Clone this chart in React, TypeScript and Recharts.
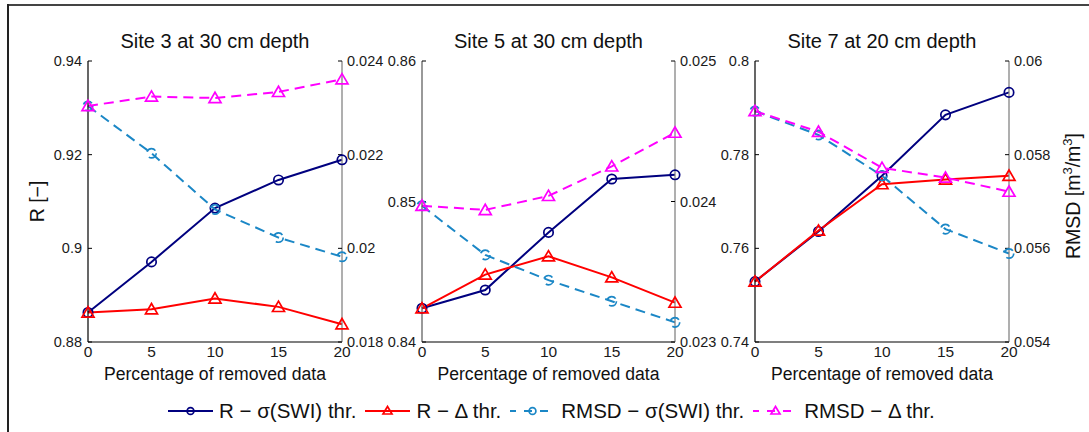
import React from 'react';
import { ComposedChart, Line, XAxis, YAxis } from 'recharts';

const FONT = '"Liberation Sans", Arial, Helvetica, sans-serif';

// ---------- data ----------
const removedPct = [0, 5, 10, 15, 20];
const xTicks = [0, 5, 10, 15, 20];

const site3Title = 'Site 3 at 30 cm depth';
const site3RSwi = [0.8863, 0.8971, 0.9086, 0.9146, 0.9189];
const site3RDelta = [0.8863, 0.887, 0.8893, 0.8875, 0.8838];
const site3RmsdSwi = [0.02304, 0.02203, 0.02083, 0.02023, 0.01982];
const site3RmsdDelta = [0.02304, 0.02324, 0.02321, 0.02334, 0.02361];
const site3LeftTicks = [0.88, 0.9, 0.92, 0.94];
const site3RightTicks = [0.018, 0.02, 0.022, 0.024];

const site5Title = 'Site 5 at 30 cm depth';
const site5RSwi = [0.8424, 0.8437, 0.8478, 0.8516, 0.8519];
const site5RDelta = [0.8424, 0.8448, 0.8461, 0.8446, 0.8428];
const site5RmsdSwi = [0.02397, 0.02362, 0.02344, 0.02329, 0.02314];
const site5RmsdDelta = [0.02397, 0.02394, 0.02404, 0.02425, 0.02449];
const site5LeftTicks = [0.84, 0.85, 0.86];
const site5RightTicks = [0.023, 0.024, 0.025];

const site7Title = 'Site 7 at 20 cm depth';
const site7RSwi = [0.7529, 0.7636, 0.7755, 0.7885, 0.7933];
const site7RDelta = [0.7529, 0.7638, 0.7737, 0.7747, 0.7755];
const site7RmsdSwi = [0.05893, 0.05842, 0.05755, 0.05641, 0.05589];
const site7RmsdDelta = [0.05893, 0.05849, 0.05772, 0.05751, 0.05721];
const site7LeftTicks = [0.74, 0.76, 0.78, 0.8];
const site7RightTicks = [0.054, 0.056, 0.058, 0.06];

const legendLabels = ['R \u2212 \u03c3(SWI) thr.', 'R \u2212 \u0394 thr.', 'RMSD \u2212 \u03c3(SWI) thr.', 'RMSD \u2212 \u0394 thr.'];
const xLabel = 'Percentage of removed data';
const leftLabel = 'R [\u2212]';

// ---------- styles ----------
const NAVY = '#00007f';
const RED = '#ff0000';
const BLUE = '#1b87c6';
const MAGENTA = '#ff00ff';
const DASH = '10 6';

const W = 1089;
const H = 432;
const PLOT_TOP = 61;
const PLOT_BOTTOM = 342;
const YAXIS_W = 50;
const XAXIS_H = 30;

const fmt = (v: number) => String(Number(v.toFixed(5)));

const triangleDot = (color: string) => (p: any) => {
  const { cx, cy, index } = p;
  if (cx == null || cy == null) return <g key={`t-${index}`} />;
  const pts = `${cx},${cy - 5.7} ${cx - 6},${cy + 4.6} ${cx + 6},${cy + 4.6}`;
  return <polygon key={`t-${color}-${index}`} points={pts} fill="none" stroke={color} strokeWidth={1.7} />;
};

const circleDot = (color: string) => ({ r: 4.7, fill: 'none', stroke: color, strokeWidth: 1.7 });

type PanelProps = {
  x0: number;
  x1: number;
  rSwi: number[];
  rDelta: number[];
  rmsdSwi: number[];
  rmsdDelta: number[];
  leftTicks: number[];
  rightTicks: number[];
  leftAxisColor: string;
};

function Panel({ x0, x1, rSwi, rDelta, rmsdSwi, rmsdDelta, leftTicks, rightTicks, leftAxisColor }: PanelProps) {
  const data = removedPct.map((x, i) => ({
    x,
    rSwi: rSwi[i],
    rDelta: rDelta[i],
    rmsdSwi: rmsdSwi[i],
    rmsdDelta: rmsdDelta[i],
  }));
  const tickStyle = { fontSize: 14.5, fill: '#1a1a1a', fontFamily: FONT };
  const xTickStyle = { fontSize: 15.5, fill: '#1a1a1a', fontFamily: FONT };
  return (
    <div style={{ position: 'absolute', left: 0, top: 0, width: W, height: H }}>
      <ComposedChart
        width={W}
        height={H}
        data={data}
        margin={{ left: x0 - YAXIS_W, right: W - x1 - YAXIS_W, top: PLOT_TOP, bottom: H - PLOT_BOTTOM - XAXIS_H }}
        style={{ overflow: 'visible' }}
      >
        <XAxis
          xAxisId="bottom"
          dataKey="x"
          type="number"
          domain={[0, 20]}
          ticks={xTicks}
          orientation="bottom"
          height={XAXIS_H}
          tickSize={0}
          tickMargin={4}
          tickLine={false}
          axisLine={{ stroke: '#000', strokeWidth: 1.2 }}
          tick={xTickStyle}
          interval={0}
        />
        <XAxis
          xAxisId="top"
          dataKey="x"
          type="number"
          domain={[0, 20]}
          ticks={xTicks}
          orientation="top"
          height={0}
          tickSize={-4}
          tick={false}
          tickLine={{ stroke: '#000' }}
          axisLine={{ stroke: '#000', strokeWidth: 1.2 }}
          interval={0}
        />
        <YAxis
          yAxisId="left"
          orientation="left"
          type="number"
          domain={[leftTicks[0], leftTicks[leftTicks.length - 1]]}
          ticks={leftTicks}
          width={YAXIS_W}
          tickSize={-4}
          tickMargin={10}
          tickFormatter={fmt}
          tick={tickStyle}
          tickLine={{ stroke: '#000' }}
          axisLine={{ stroke: leftAxisColor, strokeWidth: 1.2 }}
          interval={0}
          allowDataOverflow
        />
        <YAxis
          yAxisId="right"
          orientation="right"
          type="number"
          domain={[rightTicks[0], rightTicks[rightTicks.length - 1]]}
          ticks={rightTicks}
          width={YAXIS_W}
          tickSize={-4}
          tickMargin={9}
          tickFormatter={fmt}
          tick={tickStyle}
          tickLine={{ stroke: '#000' }}
          axisLine={{ stroke: '#7a7a7a', strokeWidth: 1.2 }}
          interval={0}
          allowDataOverflow
        />
        <Line
          xAxisId="bottom"
          yAxisId="left"
          dataKey="rSwi"
          type="linear"
          stroke={NAVY}
          strokeWidth={2}
          dot={circleDot(NAVY)}
          activeDot={false}
          isAnimationActive={false}
        />
        <Line
          xAxisId="bottom"
          yAxisId="left"
          dataKey="rDelta"
          type="linear"
          stroke={RED}
          strokeWidth={2}
          dot={triangleDot(RED)}
          activeDot={false}
          isAnimationActive={false}
        />
        <Line
          xAxisId="bottom"
          yAxisId="right"
          dataKey="rmsdSwi"
          type="linear"
          stroke={BLUE}
          strokeWidth={2}
          strokeDasharray={DASH}
          dot={circleDot(BLUE)}
          activeDot={false}
          isAnimationActive={false}
        />
        <Line
          xAxisId="bottom"
          yAxisId="right"
          dataKey="rmsdDelta"
          type="linear"
          stroke={MAGENTA}
          strokeWidth={2}
          strokeDasharray={DASH}
          dot={triangleDot(MAGENTA)}
          activeDot={false}
          isAnimationActive={false}
        />
      </ComposedChart>
    </div>
  );
}

const panels = [
  { title: site3Title, x0: 88, x1: 342, rSwi: site3RSwi, rDelta: site3RDelta, rmsdSwi: site3RmsdSwi, rmsdDelta: site3RmsdDelta, leftTicks: site3LeftTicks, rightTicks: site3RightTicks, leftAxisColor: '#000' },
  { title: site5Title, x0: 422, x1: 675, rSwi: site5RSwi, rDelta: site5RDelta, rmsdSwi: site5RmsdSwi, rmsdDelta: site5RmsdDelta, leftTicks: site5LeftTicks, rightTicks: site5RightTicks, leftAxisColor: '#555' },
  { title: site7Title, x0: 755, x1: 1009, rSwi: site7RSwi, rDelta: site7RDelta, rmsdSwi: site7RmsdSwi, rmsdDelta: site7RmsdDelta, leftTicks: site7LeftTicks, rightTicks: site7RightTicks, leftAxisColor: '#000' },
];

function LegendIcon({ color, dashed, marker }: { color: string; dashed: boolean; marker: 'circle' | 'triangle' }) {
  return (
    <svg width={45} height={16} style={{ display: 'block' }}>
      <line x1={0} y1={8} x2={45} y2={8} stroke={color} strokeWidth={2} strokeDasharray={dashed ? '8 8' : undefined} strokeDashoffset={dashed ? 2 : 0} />
      {marker === 'circle' ? (
        <circle cx={22.5} cy={8} r={3.4} fill="none" stroke={color} strokeWidth={1.7} />
      ) : (
        <polygon points="22.5,3.5 18,11 27,11" fill="none" stroke={color} strokeWidth={1.7} />
      )}
    </svg>
  );
}

const legendStyles = [
  { color: NAVY, dashed: false, marker: 'circle' as const },
  { color: RED, dashed: false, marker: 'triangle' as const },
  { color: BLUE, dashed: true, marker: 'circle' as const },
  { color: MAGENTA, dashed: true, marker: 'triangle' as const },
];

export default function App() {
  return (
    <div style={{ position: 'absolute', left: 0, top: 0, width: W, height: H, background: '#fff', overflow: 'hidden', fontFamily: FONT }}>
      {/* frame */}
      <div style={{ position: 'absolute', left: 7, top: 4, width: W - 7, height: 2, background: '#444' }} />
      <div style={{ position: 'absolute', left: 7, top: 4, width: 2, height: H - 4, background: '#222' }} />

      {panels.map((p, i) => (
        <Panel key={i} {...p} />
      ))}

      {/* titles and axis labels */}
      <svg width={W} height={H} style={{ position: 'absolute', left: 0, top: 0, pointerEvents: 'none' }}>
        {panels.map((p, i) => (
          <g key={i}>
            <text x={(p.x0 + p.x1) / 2} y={47.5} textAnchor="middle" fontSize={20} fill="#111" fontFamily={FONT}>
              {p.title}
            </text>
            <text x={(p.x0 + p.x1) / 2} y={379.5} textAnchor="middle" fontSize={17.6} fill="#111" fontFamily={FONT}>
              {xLabel}
            </text>
          </g>
        ))}
        <text transform="translate(43.5,201.5) rotate(-90)" textAnchor="middle" fontSize={19.5} fill="#111" fontFamily={FONT}>
          {leftLabel}
        </text>
        <text transform="translate(1080,196) rotate(-90)" textAnchor="middle" fontSize={19.5} fill="#111" fontFamily={FONT}>
          RMSD [m<tspan dy={-8} fontSize={13}>3</tspan><tspan dy={8}>/m</tspan><tspan dy={-8} fontSize={13}>3</tspan><tspan dy={8}>]</tspan>
        </text>
      </svg>

      {/* legend */}
      <div style={{ position: 'absolute', left: 168, top: 398, height: 26, display: 'flex', alignItems: 'center', fontSize: 20.5, color: '#111', whiteSpace: 'nowrap' }}>
        {legendLabels.map((lab, i) => (
          <div key={i} style={{ display: 'flex', alignItems: 'center', marginRight: 9 }}>
            <LegendIcon {...legendStyles[i]} />
            <span style={{ marginLeft: 6, lineHeight: '26px' }}>{lab}</span>
          </div>
        ))}
      </div>
    </div>
  );
}
